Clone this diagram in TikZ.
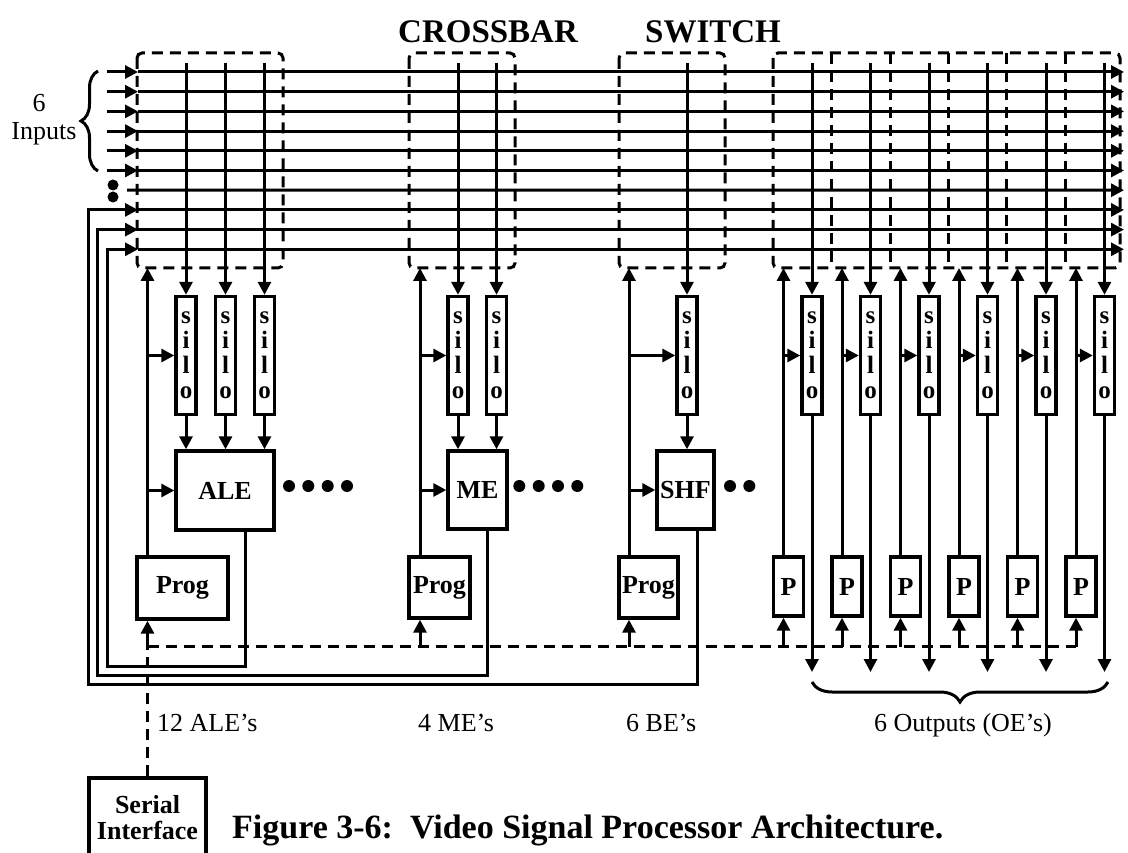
\documentclass[tikz,border=0pt]{standalone}
\usepackage{fontspec}
\setmainfont{Liberation Serif}
\usetikzlibrary{arrows.meta,decorations.pathreplacing}
\begin{document}
\begin{tikzpicture}[x=1pt,y=-1pt,
  wire/.style={line width=3pt},
  arr/.style={wire,-{Triangle[length=13pt,width=13pt]}},
  dline/.style={line width=3pt,dash pattern=on 11pt off 7pt},
  dbox/.style={dline,rounded corners=5pt},
  blk/.style={draw,line width=3.4pt,inner sep=0pt,font=\fontsize{26}{28}\selectfont\bfseries},
  silobox/.style={blk,minimum width=20pt,minimum height=118pt,align=center,font=\fontsize{25}{25}\selectfont\bfseries},
  lbl/.style={font=\fontsize{26}{28}\selectfont,inner sep=0pt},
  brc/.style={line width=3pt,decorate},
]
\useasboundingbox (0,0) rectangle (1128,853);
\clip (0,0) rectangle (1128,853);

% title
\node[anchor=base west,inner sep=0pt,font=\fontsize{33}{36}\selectfont\bfseries] (t1) at (398,43) {CROSSBAR};
\node[anchor=base west,inner sep=0pt,font=\fontsize{33}{36}\selectfont\bfseries] (t2) at (645,43) {SWITCH};

% helper coordinates
\coordinate (tapy) at (0,63);
\coordinate (bus) at (0,646.5);
\coordinate (outy) at (0,672);

% bus rows
\foreach \i in {1,...,10} {
  \pgfmathsetmacro\yy{72+19.7*(\i-1)}
  \coordinate (in\i) at (107,\yy);
  \coordinate (tip\i) at (138,\yy);
  \coordinate (out\i) at (1124,\yy);
}
\coordinate (st7) at (127,190.2);
\foreach \i in {1,...,6} \draw[arr] (in\i) -- (tip\i);
\foreach \i in {1,2,3,4,5,6,8,9,10} \draw[arr] (tip\i) -- (out\i);
\draw[arr] (st7) -- (out7);
\fill (113,185) circle[radius=5.5];
\fill (113,197) circle[radius=5.5];

% input label and brace
\node[lbl,anchor=base] (six) at (39,112) {6};
\node[lbl,anchor=base] (inputs) at (44,140) {Inputs};
\draw[brc,decoration={brace,amplitude=17pt}] (98,171) -- (98,71);

% dashed crossbar boxes
\draw[dbox] (137,53) rectangle (283,268);
\draw[dbox] (409,53) rectangle (515,268);
\draw[dbox] (619,53) rectangle (725,268);
\draw[dbox] (773,53) rectangle (1120,268);
\foreach \x in {831.7,890,948.3,1006.7,1065} \draw[dline] (\x,53) -- (\x,268);

% ===== ALE group =====
\node[silobox] (sA1) at (186,355.5) {s\\i\\l\\o};
\node[silobox] (sA2) at (225.5,355.5) {s\\i\\l\\o};
\node[silobox] (sA3) at (264.5,355.5) {s\\i\\l\\o};
\node[blk,minimum width=98pt,minimum height=79pt] (ALE) at (225,490.5) {ALE};
\node[blk,minimum width=91pt,minimum height=62pt] (progA) at (182.5,588) {Prog};
\coordinate (upA) at (147.5,268);
\foreach \s in {sA1,sA2,sA3} {
  \draw[arr] (\s.north |- tapy) -- (\s.north);
  \draw[arr] (\s.south) -- (\s.south |- ALE.north);
}
\draw[arr] (progA.north -| upA) -- (upA);
\draw[arr] (upA |- sA1.west) -- (sA1.west);
\draw[arr] (upA |- ALE.west) -- (ALE.west);
\foreach \x in {289,308.3,327.7,347} \fill (\x,486) circle[radius=6];

% ===== ME group =====
\node[silobox] (sM1) at (458,355.5) {s\\i\\l\\o};
\node[silobox] (sM2) at (496.5,355.5) {s\\i\\l\\o};
\node[blk,minimum width=59pt,minimum height=78pt] (ME) at (477.5,490) {ME};
\node[blk,minimum width=61pt,minimum height=61pt] (progM) at (439.5,587.5) {Prog};
\coordinate (upM) at (420,268);
\foreach \s in {sM1,sM2} {
  \draw[arr] (\s.north |- tapy) -- (\s.north);
  \draw[arr] (\s.south) -- (\s.south |- ME.north);
}
\draw[arr] (progM.north -| upM) -- (upM);
\draw[arr] (upM |- sM1.west) -- (sM1.west);
\draw[arr] (upM |- ME.west) -- (ME.west);
\foreach \x in {519.3,538.7,558,577.3} \fill (\x,486) circle[radius=6];

% ===== SHF group =====
\node[silobox] (sS1) at (687,355.5) {s\\i\\l\\o};
\node[blk,minimum width=57pt,minimum height=78pt] (SHF) at (685.5,490) {SHF};
\node[blk,minimum width=59pt,minimum height=61pt] (progS) at (648.5,587.5) {Prog};
\coordinate (upS) at (629,268);
\draw[arr] (sS1.north |- tapy) -- (sS1.north);
\draw[arr] (sS1.south) -- (sS1.south |- SHF.north);
\draw[arr] (progS.north -| upS) -- (upS);
\draw[arr] (upS |- sS1.west) -- (sS1.west);
\draw[arr] (upS |- SHF.west) -- (SHF.west);
\foreach \x in {730,749.3} \fill (\x,486) circle[radius=6];

% ===== feedback loops =====
\coordinate (loopA) at (107,666);
\coordinate (loopM) at (97,675);
\coordinate (loopS) at (88,684);
\draw[arr] ([xshift=20pt]ALE.south) |- (loopA) |- (tip10);
\draw[arr] ([xshift=9.5pt]ME.south) |- (loopM) |- (tip9);
\draw[arr] ([xshift=11.5pt]SHF.south) |- (loopS) |- (tip8);

% ===== output group =====
\foreach \i in {0,...,5} {
  \pgfmathsetmacro\sx{812+58.5*\i}
  \node[silobox] (sO\i) at (\sx,355.5) {s\\i\\l\\o};
  \node[blk,minimum width=30pt,minimum height=59pt] (pO\i) at (\sx-23.5,586.5) {P};
  \coordinate (upO\i) at (\sx-28.5,268);
  \draw[arr] (sO\i.north |- tapy) -- (sO\i.north);
  \draw[arr] (pO\i.north -| upO\i) -- (upO\i);
  \draw[arr] (upO\i |- sO\i.west) -- (sO\i.west);
  \draw[arr] (sO\i.south) -- (sO\i.south |- outy);
  \draw[arr] (upO\i |- bus) -- (upO\i |- pO\i.south);
}

% ===== serial programming bus =====
\node[blk,minimum width=117pt,minimum height=80pt,align=center,font=\fontsize{26}{26}\selectfont\bfseries] (serial) at (147.5,818) {Serial\\Interface};
\draw[dline] (upA |- bus) -- (upO5 |- bus);
\draw[dline] (serial.north) -- (upA |- bus);
\draw[arr] (upA |- bus) -- (upA |- progA.south);
\draw[arr] (upM |- bus) -- (upM |- progM.south);
\draw[arr] (upS |- bus) -- (upS |- progS.south);

% output brace and labels
\draw[brc,decoration={brace,amplitude=20pt}] (1108,682) -- (812,682);
\node[lbl,anchor=base west] (lale) at (157,731) {12 ALE’s};
\node[lbl,anchor=base west] (lme) at (418,731) {4 ME’s};
\node[lbl,anchor=base west] (lbe) at (626,731) {6 BE’s};
\node[lbl,anchor=base] (lout) at (963,731) {6 Outputs (OE’s)};

% caption
\node[anchor=base west,inner sep=0pt,font=\fontsize{34}{36}\selectfont\bfseries] (cap) at (232,838) {Figure 3-6:\ \ Video Signal Processor Architecture.};
\end{tikzpicture}
\end{document}
